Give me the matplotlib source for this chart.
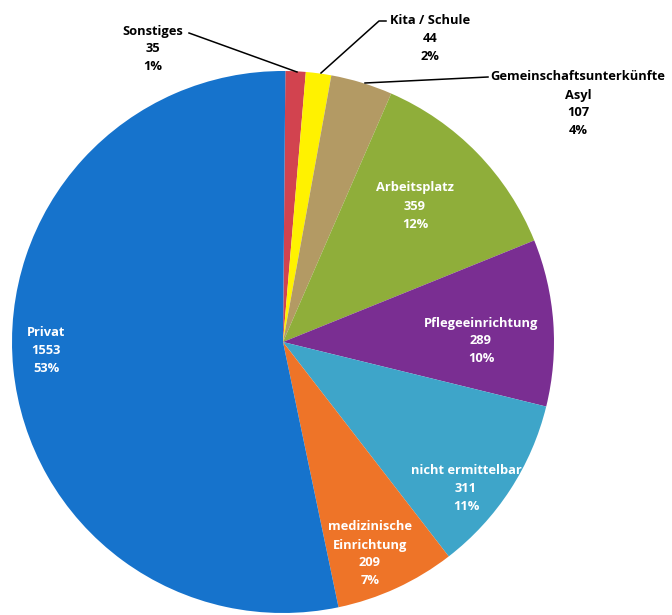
import matplotlib.pyplot as plt

# slices clockwise from 12 o'clock
names = ['Sonstiges', 'Kita / Schule', 'Gemeinschaftsunterkünfte\nAsyl', 'Arbeitsplatz',
         'Pflegeeinrichtung', 'nicht ermittelbar', 'medizinische\nEinrichtung', 'Privat']
counts = [35, 44, 107, 359, 289, 311, 209, 1553]
percents = ['1%', '2%', '4%', '12%', '10%', '11%', '7%', '53%']
colors = ['#d2434f', '#fff200', '#b39a64', '#8fae3a', '#7a2e92', '#3ea5c9', '#ee7428', '#1673cc']

H = 615
cx, cy, r = 283, H - 342, 271
FS = 9.3
LS = 1.5

plt.rcParams['font.family'] = ['Open Sans', 'DejaVu Sans']

fig = plt.figure(figsize=(6.72, 6.15), dpi=100)
ax = fig.add_axes([0, 0, 1, 1])

ax.pie(counts, colors=colors, startangle=89.5, counterclock=False,
       center=(cx, cy), radius=r, wedgeprops=dict(linewidth=0))
ax.set_xlim(0, 672)
ax.set_ylim(0, H)
ax.set_aspect('equal')
ax.axis('off')


def lab(i, x, y, color, ha='center'):
    txt = names[i] + '\n' + str(counts[i]) + '\n' + percents[i]
    ax.text(x, H - y, txt, ha=ha, va='center', color=color, fontsize=FS,
            fontweight='bold', linespacing=LS)


# inside labels (y = centre of text block)
lab(3, 415, 206, 'white')
lab(4, 481, 341, 'white')
lab(5, 466, 489, 'white')
lab(6, 370, 554, 'white')
lab(7, 46, 350, 'white')

# outside labels with leader lines
lab(0, 153, 49, 'black')
ax.plot([189, 297], [H - 33, H - 72], color='black', lw=1.1)
lab(1, 430, 39, 'black')
ax.plot([386, 379, 321], [H - 21, H - 21, H - 73], color='black', lw=1.1)
lab(2, 578, 104, 'black')
ax.plot([365, 488], [H - 83, H - 77], color='black', lw=1.1)

fig.savefig('out.png', dpi=100)
